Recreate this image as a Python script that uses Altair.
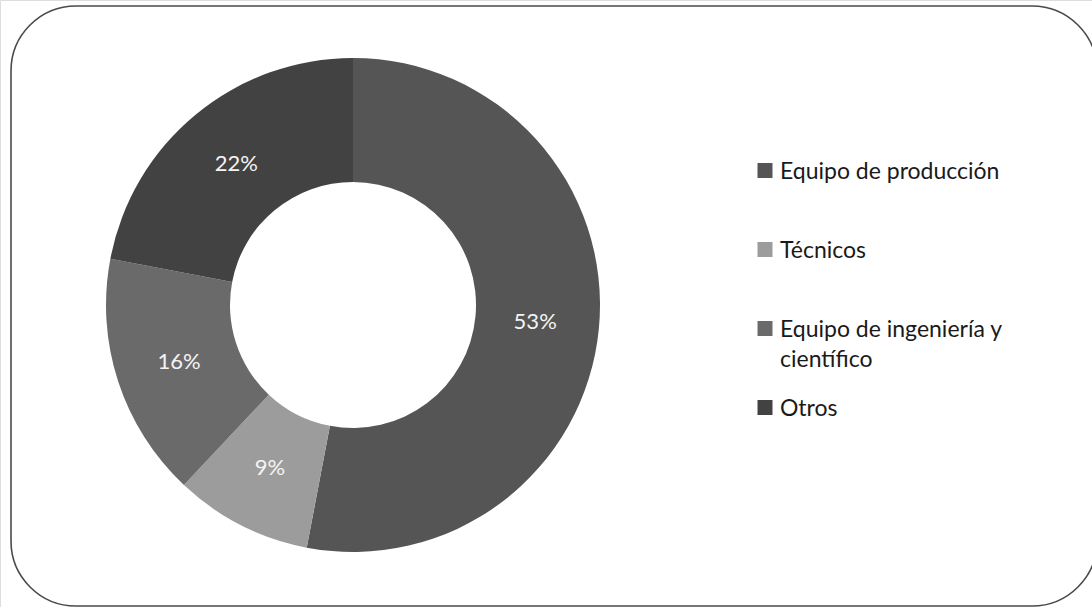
import altair as alt
import pandas as pd

categories = ["Equipo de producción", "Técnicos", "Equipo de ingeniería y científico", "Otros"]
legend_lines = ["Equipo de producción", "Técnicos", "Equipo de ingeniería y\ncientífico", "Otros"]
values = [53, 9, 16, 22]
labels = ["53%", "9%", "16%", "22%"]
colors = ["#555555", "#9c9c9c", "#6a6a6a", "#424242"]

df = pd.DataFrame({
    "cat": categories,
    "legend": legend_lines,
    "value": values,
    "label": labels,
    "idx": list(range(len(categories))),
})

CX, CY = 353, 305
color_scale = alt.Scale(domain=categories, range=colors)

frame = alt.Chart(alt.Data(values=[{"a": 1}])).mark_rect(
    fill="white", stroke="#4a4a4a", strokeWidth=1.6, cornerRadius=65
).encode(
    x=alt.value(11), x2=alt.value(1097), y=alt.value(6), y2=alt.value(606)
)

base = alt.Chart(df).encode(
    theta=alt.Theta("value:Q", stack=True),
    order=alt.Order("idx:Q", sort="ascending"),
)

arcs = base.mark_arc(innerRadius=123, outerRadius=247, x=CX, y=CY, stroke="transparent").encode(
    color=alt.Color("cat:N", scale=color_scale, legend=None)
)

pct = base.mark_text(
    radius=183, x=CX, y=CY, font="Lato", fontSize=22, fill="#f4f4f4",
    align="center", baseline="middle"
).encode(text="label:N")

ypos = alt.Y("cat:N", scale=alt.Scale(domain=categories, range=[170.5, 407.5], padding=0), axis=None)

squares = alt.Chart(df).mark_square(size=225, x=765, opacity=1, filled=True).encode(
    y=ypos,
    color=alt.Color("cat:N", scale=color_scale, legend=None),
)

legend_text = alt.Chart(df).mark_text(
    x=780, align="left", baseline="alphabetic", dy=8, font="Lato", fontSize=23,
    fill="#1a1a1a", lineBreak="\n", lineHeight=30
).encode(
    y=ypos,
    text="legend:N",
)

chart = alt.layer(frame, arcs, pct, squares, legend_text).properties(
    width=1092, height=607, padding=0, autosize=alt.AutoSizeParams(type="none")
).configure_view(stroke="transparent").configure(background="white")

chart.save("out.html", embed_options={"renderer": "svg", "actions": False})
